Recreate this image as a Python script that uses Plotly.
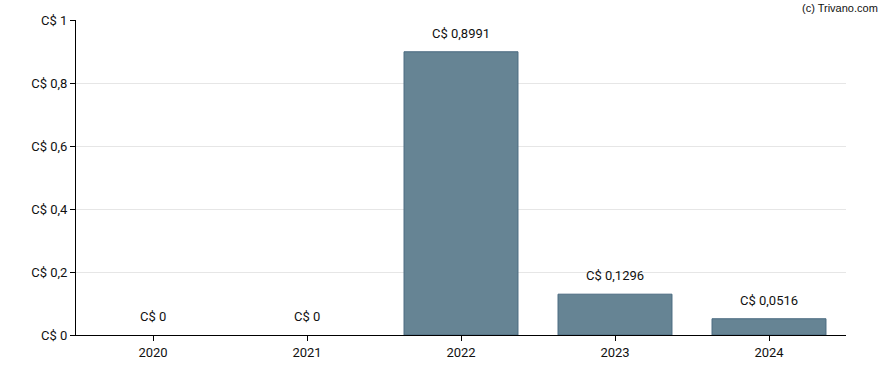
import plotly.graph_objects as go

years = ["2020", "2021", "2022", "2023", "2024"]
values = [0, 0, 0.8991, 0.1296, 0.0516]
bar_labels = ["C$ 0", "C$ 0", "C$ 0,8991", "C$ 0,1296", "C$ 0,0516"]
y_ticks = [0, 0.2, 0.4, 0.6, 0.8, 1]
y_tick_labels = ["C$ 0", "C$ 0,2", "C$ 0,4", "C$ 0,6", "C$ 0,8", "C$ 1"]

fig = go.Figure()
fig.add_trace(go.Bar(
    x=years, y=values,
    text=bar_labels, textposition="none",
    marker=dict(color="#668494",
                line=dict(color="#4a6a80", width=[0 if v == 0 else 1 for v in values])),
    hoverinfo="skip",
))

annotations = [dict(
    x=i, y=v, xref="x", yref="y", text=lbl, showarrow=False,
    yanchor="bottom", yshift=9,
    font=dict(family="Roboto", size=13, color="#111111"),
) for i, (v, lbl) in enumerate(zip(values, bar_labels))]

annotations.append(dict(
    text="(c) Trivano.com", x=1.0436, y=1.0, xref="paper", yref="paper",
    xanchor="right", yanchor="middle", yshift=12,
    showarrow=False,
    font=dict(family="Liberation Sans", size=11, color="#111111"),
))

fig.update_layout(
    width=888, height=370,
    margin=dict(l=76, r=42, t=20, b=35, autoexpand=False),
    paper_bgcolor="white", plot_bgcolor="white",
    bargap=0.26,
    showlegend=False,
    font=dict(family="Roboto", size=13, color="#111111"),
    xaxis=dict(
        type="category",
        range=[-0.5, len(years) - 0.5],
        showline=True, linecolor="black", linewidth=1,
        ticks="outside", ticklen=5, tickcolor="black",
        showgrid=False,
        tickfont=dict(family="Roboto", size=13, color="#111111"),
    ),
    yaxis=dict(
        range=[0, 1],
        tickvals=y_ticks, ticktext=y_tick_labels,
        showline=True, linecolor="black", linewidth=1,
        ticks="outside", ticklen=5, tickcolor="black",
        showgrid=True, gridcolor="#e6e6e6", gridwidth=1,
        zeroline=False,
        tickfont=dict(family="Roboto", size=13, color="#111111"),
    ),
    annotations=annotations,
)

fig.write_html("out.html", config={"displayModeBar": False},
               post_script="document.body.style.margin='0px';")
